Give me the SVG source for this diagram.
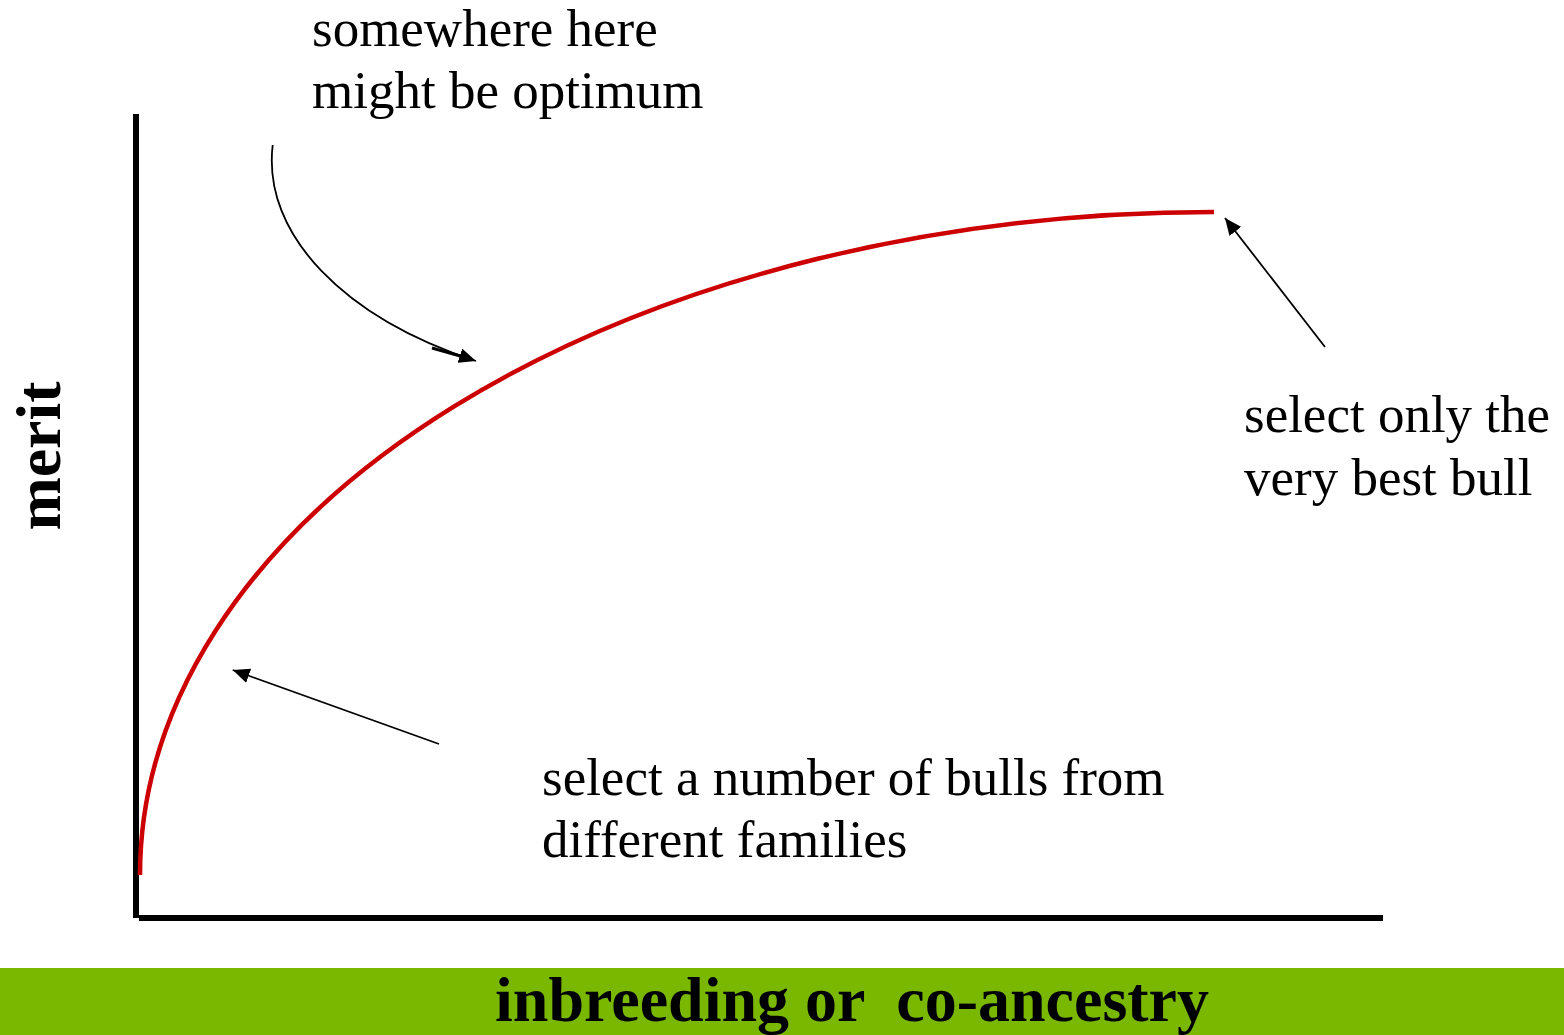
<svg xmlns="http://www.w3.org/2000/svg" width="1564" height="1035" viewBox="0 0 1564 1035">
<style>
.lbl{font-family:"Liberation Serif","Times New Roman",serif;font-size:53px;fill:#000}
.bold{font-family:"Liberation Serif","Times New Roman",serif;font-size:64px;font-weight:bold;fill:#000}
.conn{fill:none;stroke:#000;stroke-width:1.8}
.axis{fill:#000}
</style>
<defs>
<marker id="ah" markerUnits="userSpaceOnUse" viewBox="0 0 17 15" refX="17" refY="7.5" markerWidth="17" markerHeight="15" orient="auto">
<path d="M0,0 L17,7.5 L0,15 z" fill="#000"/>
</marker>
</defs>
<rect x="0" y="0" width="1564" height="1035" fill="#fff"/>
<rect id="footer-bar" x="0" y="968" width="1564" height="67" fill="#7AB800"/>
<g id="axes">
<rect class="axis" x="133" y="114" width="6" height="804"/>
<rect class="axis" x="139" y="915" width="1244" height="6"/>
</g>
<g id="curve">
<path d="M140,875 A1074,663 0 0 1 1214,212" fill="none" stroke="#CC0000" stroke-width="4.5"/>
</g>
<g id="connectors">
<path class="conn" d="M272.7,145 C262,235 345,318 476,361" marker-end="url(#ah)"/>
<line x1="432" y1="348" x2="462" y2="356.5" stroke="#000" stroke-width="3"/>
<line class="conn" x1="1325" y1="347" x2="1225" y2="218" marker-end="url(#ah)"/>
<line class="conn" x1="439" y1="744" x2="232.7" y2="670" marker-end="url(#ah)"/>
</g>
<g id="label-optimum">
<text class="lbl" x="312" y="46">somewhere here</text>
<text class="lbl" x="312" y="108">might be optimum</text>
</g>
<g id="label-best-bull">
<text class="lbl" x="1244" y="432">select only the</text>
<text class="lbl" x="1244" y="495">very best bull</text>
</g>
<g id="label-families">
<text class="lbl" x="542" y="795">select a number of bulls from</text>
<text class="lbl" x="542" y="857">different families</text>
</g>
<g id="label-merit">
<text class="bold" x="60" y="456" text-anchor="middle" transform="rotate(-90 60 456)">merit</text>
</g>
<g id="label-xaxis">
<text class="bold" x="495" y="1021" xml:space="preserve">inbreeding or  co-ancestry</text>
</g>
</svg>
